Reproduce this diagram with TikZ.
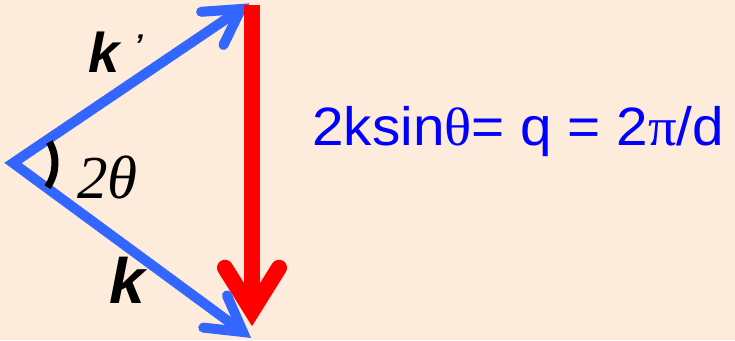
\RequirePackage{fix-cm}
\documentclass[tikz,border=0pt]{standalone}
\usepackage{fontspec}
\newfontfamily\arialf{Liberation Sans}
\newfontfamily\timesf{Liberation Serif}
\usetikzlibrary{calc}
\definecolor{bgpeach}{RGB}{253,235,220}
\definecolor{vecblue}{RGB}{51,102,255}
\definecolor{eqblue}{RGB}{0,0,255}
\definecolor{vecred}{RGB}{255,0,0}
\begin{document}
\begin{tikzpicture}[x=1pt,y=-1pt,
  bluevec/.style={draw=vecblue,line width=10pt,line join=miter},
  bluehead/.style={draw=vecblue,line width=10pt,line cap=round,line join=miter},
  redvec/.style={draw=vecred,line width=16pt},
  redhead/.style={draw=vecred,line width=16pt,line cap=round,line join=miter},
  lbl/.style={inner sep=0pt,anchor=base west}]
\fill[bgpeach] (0,0) rectangle (735,340);
\useasboundingbox (0,0) rectangle (735,340);
\coordinate (O) at (13,163);
\coordinate (T1) at (241,9);
\coordinate (T2) at (243,332);
\coordinate (R0) at (252,5);
\coordinate (R1) at (252,311);
\draw[bluevec] (T1) -- (O) -- (T2);
\draw[bluehead] ($(T1)!40pt!30:(O)$) -- (T1) -- ($(T1)!40pt!-30:(O)$);
\draw[redvec] (R0) -- ($(R1)+(0,-6)$);
\draw[redhead] ($(R1)!51pt!32:(R0)$) -- (R1) -- ($(R1)!51pt!-32:(R0)$);
\draw[bluehead] ($(T2)!40pt!30:(O)$) -- (T2) -- ($(T2)!40pt!-30:(O)$);
\draw[line width=7pt] ($(O)+(30:42pt)$) arc[start angle=30,end angle=-35,radius=42pt];
\node[lbl,font=\arialf\bfseries\itshape\fontsize{56pt}{56pt}\selectfont] (kp) at (88,72) {k\hspace{15pt}\raisebox{17pt}{\fontsize{30pt}{30pt}\selectfont’}};
\node[lbl,font=\arialf\bfseries\itshape\fontsize{64pt}{64pt}\selectfont] (kk) at (109,303) {k};
\node[lbl,font=\timesf\itshape\fontsize{61pt}{61pt}\selectfont] (tt) at (77,198) {2θ};
\node[lbl,text=eqblue,font=\arialf\fontsize{54pt}{54pt}\selectfont,xscale=1.05] (eq) at (312,145) {2ksin{\timesf θ}= q = 2{\timesf π}/d};
\end{tikzpicture}
\end{document}
